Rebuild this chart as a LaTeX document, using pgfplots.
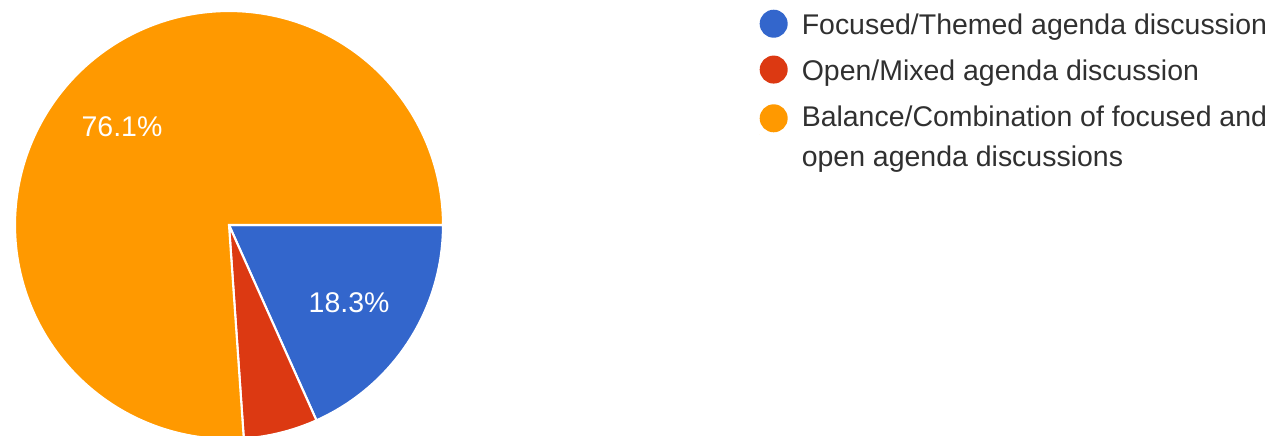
\documentclass[border=0pt]{standalone}
\usepackage{pgfplots}
\pgfplotsset{compat=1.18}
\usepackage{fontspec}
\setmainfont{Liberation Sans}
\definecolor{gblue}{HTML}{3366CC}
\definecolor{gred}{HTML}{DC3912}
\definecolor{gorange}{HTML}{FF9900}
\definecolor{gtext}{HTML}{303030}
% slices given as cumulative percentages (start:end), clockwise from 3 o'clock
% Focused/Themed 18.3, Open/Mixed 5.6, Balance/Combination 76.1
\begin{document}
\begin{tikzpicture}
\begin{axis}[
  width=12.82cm, height=4.35cm, scale only axis,
  xmin=-1.0701, xmax=4.9206, ymin=-0.9813, ymax=1.0514,
  hide axis, clip=true,
  legend style={draw=none, fill=none, font=\fontsize{8.1}{11.3}\selectfont\color{gtext},
    at={(rel axis cs:0.5912,0.985)}, anchor=north west,
    legend cell align=left, row sep=1.68pt,
    cells={align=left}, inner sep=0pt},
  legend image code/.code={\path (0,0) -- (0.34cm,0); \fill[#1, draw=none] (0.14cm,0.035cm) circle (0.14cm);},
]
\path (rel axis cs:0,0) rectangle (rel axis cs:1,1);
\addplot[fill=gblue, draw=white, line width=0.6pt, domain=0:18.3, samples=60, variable=\t]
  ({cos(-3.6*\t)},{sin(-3.6*\t)}) -- (axis cs:0,0) -- cycle;
\addlegendentry{Focused/Themed agenda discussion}
\addplot[fill=gred, draw=white, line width=0.6pt, domain=18.3:23.9, samples=20, variable=\t]
  ({cos(-3.6*\t)},{sin(-3.6*\t)}) -- (axis cs:0,0) -- cycle;
\addlegendentry{Open/Mixed agenda discussion}
\addplot[fill=gorange, draw=white, line width=0.6pt, domain=23.9:100, samples=200, variable=\t,
  legend image code/.code={\path (0,0) -- (0.34cm,0); \fill[gorange, draw=none] (0.14cm,0.205cm) circle (0.14cm);}]
  ({cos(-3.6*\t)},{sin(-3.6*\t)}) -- (axis cs:0,0) -- cycle;
\addlegendentry{Balance/Combination of focused and\\open agenda discussions}
\node[text=white, font=\fontsize{8.1}{10}\selectfont] at (axis cs:-0.500,0.458) {76.1\%};
\node[text=white, font=\fontsize{8.1}{10}\selectfont] at (axis cs:0.561,-0.364) {18.3\%};
\end{axis}
\end{tikzpicture}
\end{document}
